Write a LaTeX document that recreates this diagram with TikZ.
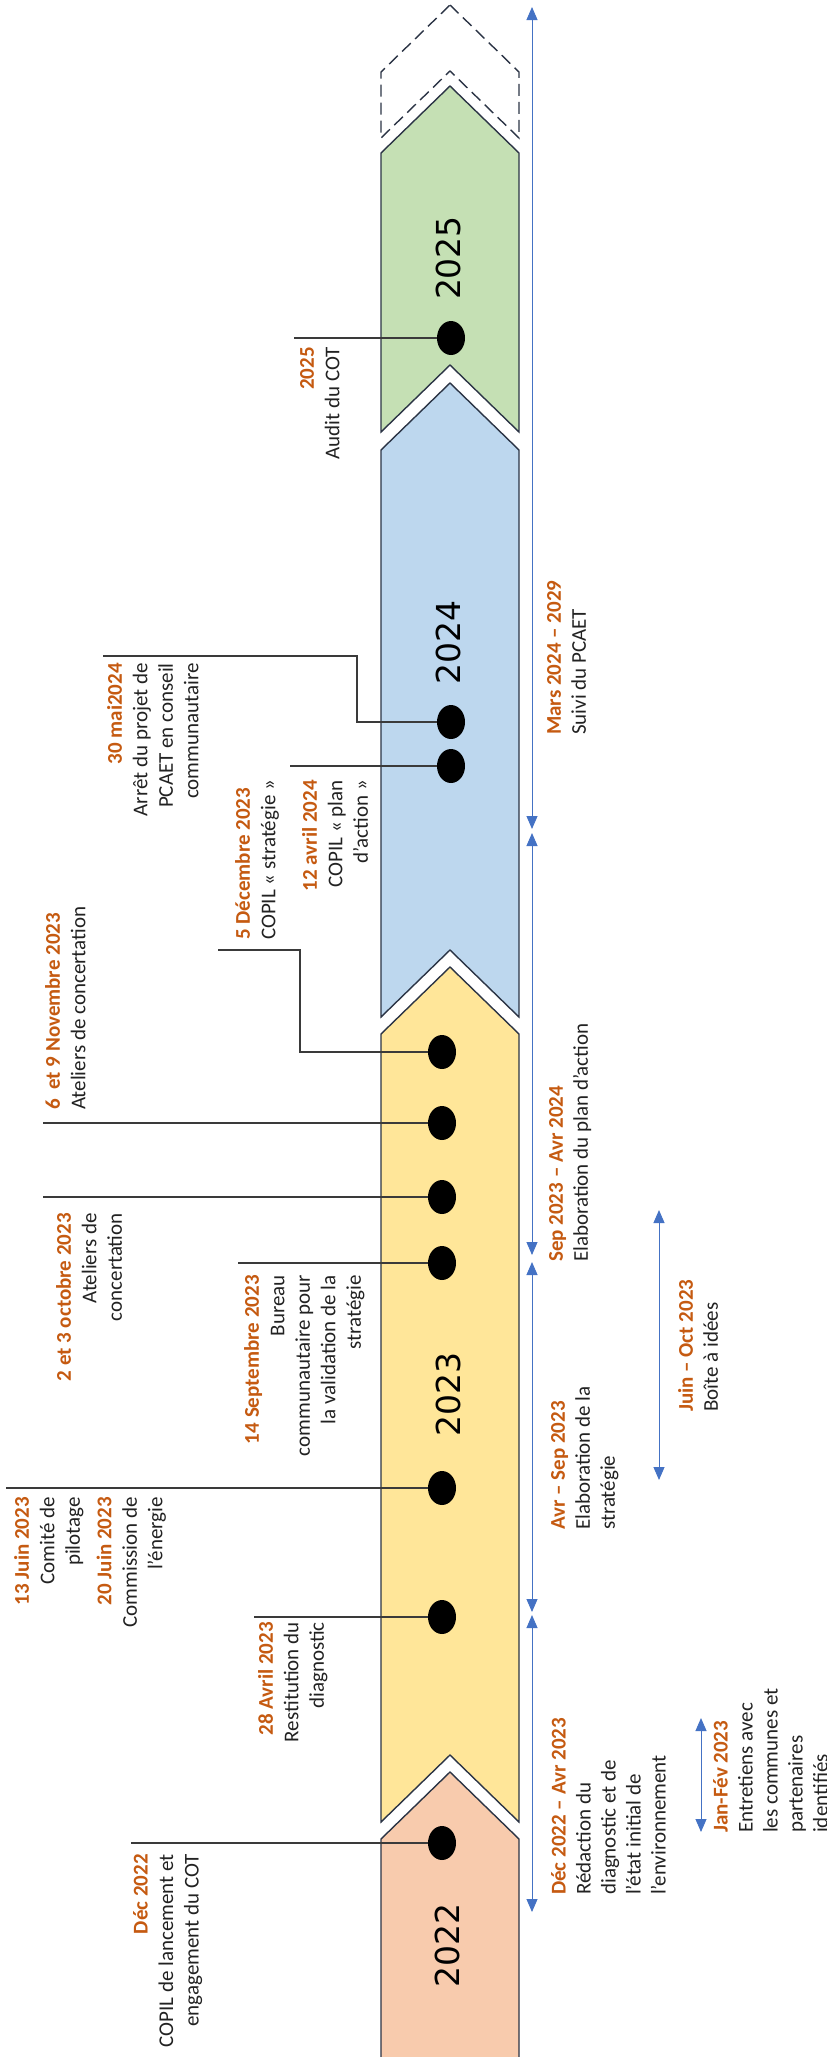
\documentclass[tikz,border=0pt]{standalone}
\usepackage{fontspec}
\setmainfont{Carlito}
\newfontfamily\verd{DejaVu Sans}
\usetikzlibrary{arrows.meta, shapes.geometric}
\definecolor{peach}{HTML}{F8CBAD}
\definecolor{sand}{HTML}{FFE699}
\definecolor{sky}{HTML}{BDD7EE}
\definecolor{sage}{HTML}{C5E0B4}
\definecolor{rust}{HTML}{C55A11}
\definecolor{arrowblue}{HTML}{4472C4}
\definecolor{edge}{HTML}{2B3445}
\definecolor{tickgrey}{HTML}{3A3A3A}
\definecolor{ink}{HTML}{222222}
\newcommand{\when}[1]{\textcolor{rust}{\textbf{#1}}}

\begin{document}
\begin{tikzpicture}[x=1pt, y=-1pt,
  band/.style={draw=edge, line width=1.4pt, line join=miter},
  year/.style={rotate=90, font=\verd\fontsize{33}{33}\selectfont},
  dot/.style={ellipse, fill=black, minimum width=28pt, minimum height=34pt, inner sep=0pt},
  tick/.style={draw=tickgrey, line width=1.2pt},
  lbl/.style={rotate=90, anchor=north east, align=right, inner sep=0pt, text=ink, font=\fontsize{21}{25.5}\selectfont},
  lblr/.style={lbl, anchor=north west, align=left},
  rlbl/.style={rotate=90, anchor=north west, align=left, inner sep=0pt, text=ink, font=\fontsize{21}{25}\selectfont},
  span/.style={draw=arrowblue, line width=1pt, {Triangle[length=13pt, width=11pt]}-{Triangle[length=13pt, width=11pt]}}
]
\useasboundingbox (0,0) rectangle (827,2057);
\clip (0,0) rectangle (827,2057);

% chevrons
\draw[band, dashed, dash pattern=on 12pt off 6pt] (450,5) -- (519,72) -- (519,138) -- (450,71) -- (381,138) -- (381,72) -- cycle;
\draw[band, fill=sage] (450,86) -- (519,153) -- (519,432) -- (450,365) -- (381,432) -- (381,153) -- cycle;
\draw[band, fill=sky] (450,383) -- (519,450) -- (519,1017) -- (450,950) -- (381,1017) -- (381,450) -- cycle;
\draw[band, fill=sand] (450,967) -- (519,1034) -- (519,1822) -- (450,1755) -- (381,1822) -- (381,1034) -- cycle;
\draw[band, fill=peach] (450,1772) -- (519,1839) -- (519,2075) -- (381,2075) -- (381,1839) -- cycle;

\node[year] (y25) at (448,258) {2025};
\node[year] (y24) at (448,642) {2024};
\node[year] (y23) at (448,1394) {2023};
\node[year] (y22) at (447,1945) {2022};

% milestones
\node[dot] (d1) at (442,1843) {};
\node[dot] (d2) at (442,1617) {};
\node[dot] (d3) at (442,1488) {};
\node[dot] (d4) at (442,1263) {};
\node[dot] (d5) at (442,1197) {};
\node[dot] (d6) at (442,1123) {};
\node[dot] (d7) at (442,1052) {};
\node[dot] (d8) at (451,766) {};
\node[dot] (d9) at (451,722) {};
\node[dot] (d10) at (451,338) {};

\coordinate (e1) at (131,1843);
\coordinate (e2) at (254,1617);
\coordinate (e3) at (6,1488);
\coordinate (e4) at (238,1263);
\coordinate (e5) at (43,1197);
\coordinate (e6) at (43,1123);
\coordinate (b7) at (300,950);
\coordinate (e7) at (218,950);
\coordinate (e8) at (290,766);
\coordinate (b9) at (357,656);
\coordinate (e9) at (103,656);
\coordinate (e10) at (294,338);

\draw[tick] (d1) -- (e1);
\draw[tick] (d2) -- (e2);
\draw[tick] (d3) -- (e3);
\draw[tick] (d4) -- (e4);
\draw[tick] (d5) -- (e5);
\draw[tick] (d6) -- (e6);
\draw[tick] (d7) -| (b7) -- (e7);
\draw[tick] (d8) -- (e8);
\draw[tick] (d9) -| (b9) -- (e9);
\draw[tick] (d10) -- (e10);

\node[lbl] (l1) at (133,1854) {\when{Déc 2022}\\COPIL de lancement et\\engagement du COT};
\node[lbl] (l2) at (258,1622) {\when{28 Avril 2023}\\Restitution du\\diagnostic};
\node[lbl] (l3) at (14,1497) {\when{13 Juin 2023}\\Comité de\\pilotage\\[6pt]\when{20 Juin 2023}\\Commission de\\l’énergie};
\node[lbl] (l4) at (244,1275) {\when{14 Septembre 2023}\\Bureau\\communautaire pour\\la validation de la\\stratégie};
\node[lbl] (l5) at (56,1213) {\when{2 et 3 octobre 2023}\\Ateliers de\\concertation};
\node[lblr] (l6) at (45,1110) {\when{6\ \ et 9 Novembre 2023}\\Ateliers de concertation};
\node[lblr] (l7) at (235,940) {\when{5 Décembre 2023}\\COPIL « stratégie »};
\node[lbl] (l8) at (302,780) {\when{12 avril 2024}\\COPIL « plan\\d’action »};
\node[lbl] (l9) at (107,663) {\when{30 mai2024}\\Arrêt du projet de\\PCAET en conseil\\communautaire};
\node[lbl] (l10) at (300,347) {\when{2025}\\Audit du COT};

% phases
\coordinate (p0) at (532,7);
\coordinate (p1) at (532,829);
\coordinate (p2) at (532,833);
\coordinate (p3) at (532,1255);
\coordinate (p4) at (532,1262);
\coordinate (p5) at (532,1612);
\coordinate (p6) at (532,1615);
\coordinate (p7) at (532,1912);
\coordinate (q1) at (659,1210);
\coordinate (q2) at (659,1480);
\coordinate (q3) at (701,1718);
\coordinate (q4) at (701,1832);

\draw[span] (p0) -- (p1);
\draw[span] (p2) -- (p3);
\draw[span] (p4) -- (p5);
\draw[span] (p6) -- (p7);
\draw[span] (q1) -- (q2);
\draw[span] (q3) -- (q4);

\node[rlbl] (r1) at (547,735) {\when{Mars 2024 – 2029}\\Suivi du PCAET};
\node[rlbl] (r2) at (549,1262) {\when{Sep 2023 – Avr 2024}\\Elaboration du plan d’action};
\node[rlbl] (r3) at (551,1530) {\when{Avr – Sep 2023}\\Elaboration de la\\stratégie};
\node[rlbl] (r4) at (551,1895) {\when{Déc 2022 – Avr 2023}\\Rédaction du\\diagnostic et de\\l’état initial de\\l’environnement};
\node[rlbl] (r5) at (678,1412) {\when{Juin – Oct 2023}\\Boîte à idées};
\node[rlbl] (r6) at (713,1833) {\when{Jan-Fév 2023}\\Entretiens avec\\les communes et\\partenaires\\identifiés};
\end{tikzpicture}
\end{document}
